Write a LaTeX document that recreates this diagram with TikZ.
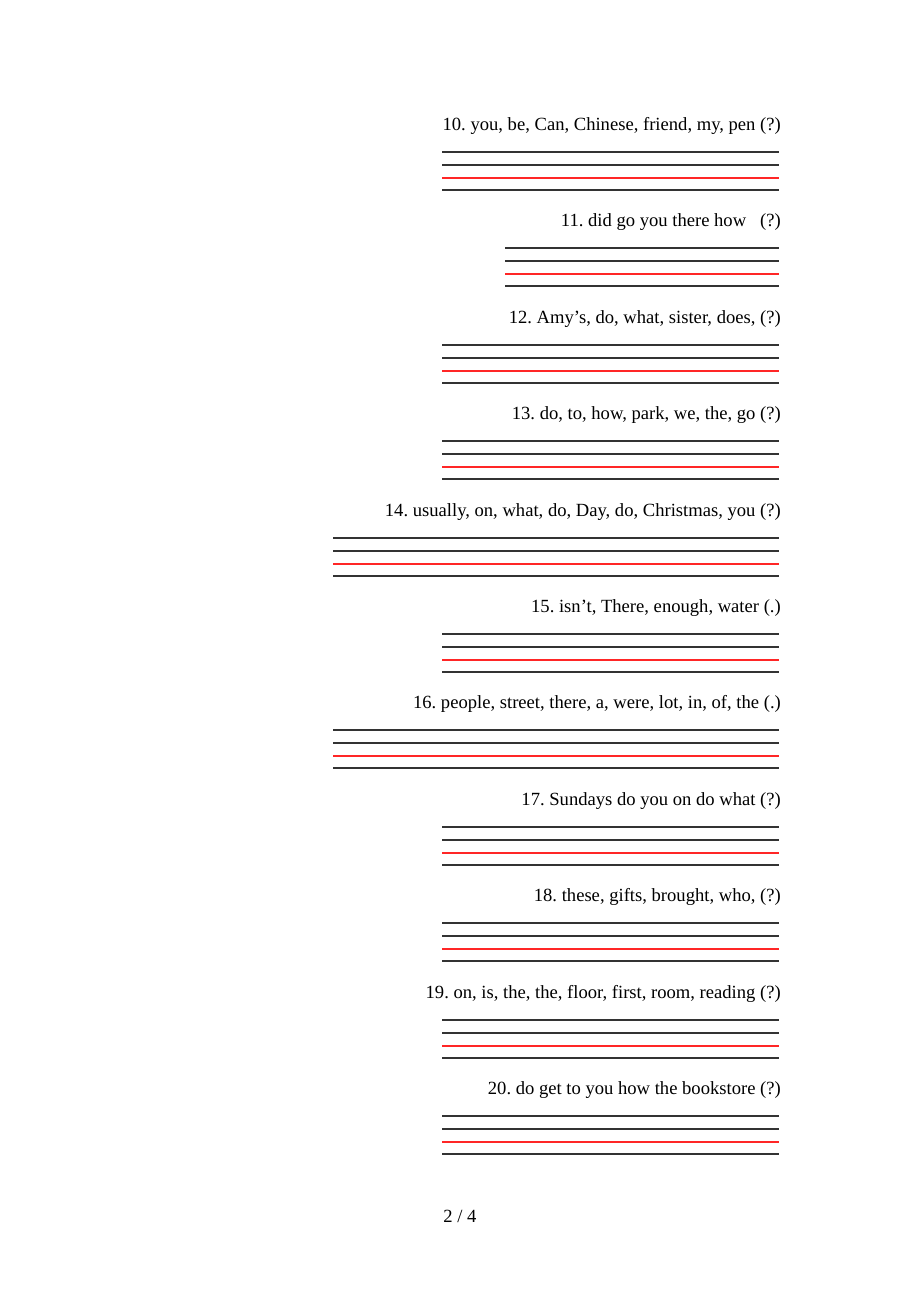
\documentclass[tikz,border=0pt]{standalone}
\usepackage{fontspec}
\setmainfont{Liberation Serif}
\frenchspacing
\begin{document}
\begin{tikzpicture}[x=1pt,y=-1pt,
  qtext/.style={anchor=east,inner sep=0pt,font=\fontsize{18.6}{21}\selectfont},
  rule/.style={line width=1.2pt,draw=black!80},
  redrule/.style={line width=1.2pt,draw=red!85},
]
\useasboundingbox (0,0) rectangle (920,1302);
\fill[white] (0,0) rectangle (920,1302);
\foreach \n/\t/\yy/\xl in {
  10/{10. you, be, Can, Chinese, friend, my, pen (?)}/124/442,
  11/{11. did go you there how \ \ (?)}/220/505,
  12/{12. Amy’s, do, what, sister, does, (?)}/317/442,
  13/{13. do, to, how, park, we, the, go (?)}/413/442,
  14/{14. usually, on, what, do, Day, do, Christmas, you (?)}/510/333,
  15/{15. isn’t, There, enough, water (.)}/606/442,
  16/{16. people, street, there, a, were, lot, in, of, the (.)}/702/333,
  17/{17. Sundays do you on do what (?)}/799/442,
  18/{18. these, gifts, brought, who, (?)}/895/442,
  19/{19. on, is, the, the, floor, first, room, reading (?)}/992/442,
  20/{20. do get to you how the bookstore (?)}/1088/442}{
  \node[qtext] (q\n) at (781,\yy+2) {\t};
  \coordinate (a\n) at (\xl,\yy+28);
  \coordinate (b\n) at (779,\yy+28);
  \draw[rule] (a\n) -- (b\n);
  \draw[rule] ([yshift=-13pt]a\n) -- ([yshift=-13pt]b\n);
  \draw[redrule] ([yshift=-26pt]a\n) -- ([yshift=-26pt]b\n);
  \draw[rule] ([yshift=-38pt]a\n) -- ([yshift=-38pt]b\n);
}
\node[inner sep=0pt,font=\fontsize{18.6}{21}\selectfont] (pg) at (460,1216) {2 / 4};
\end{tikzpicture}
\end{document}
